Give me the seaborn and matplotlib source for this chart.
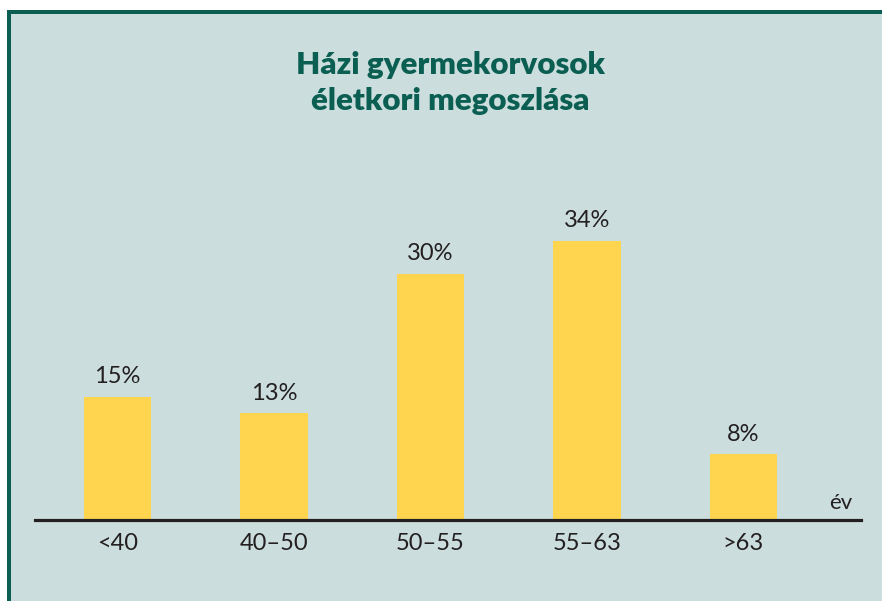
import matplotlib
matplotlib.use("Agg")
import matplotlib.pyplot as plt
import seaborn as sns
import pandas as pd
from matplotlib.patches import Rectangle

categories = ["<40", "40–50", "50–55", "55–63", ">63"]
values = [15, 13, 30, 34, 8]
title_lines = ["Házi gyermekorvosok", "életkori megoszlása"]
unit_label = "év"

BG = "#cbdedd"
GREEN = "#0b5e52"
BAR = "#ffd54f"
TXT = "#231f20"

sns.set_theme(style="white")
plt.rcParams["font.family"] = ["Lato", "DejaVu Sans"]

W, H = 882, 601
fig = plt.figure(figsize=(W / 100, H / 100), dpi=100, facecolor="white")

def px_rect(x0, y0_top, x1, y1_top, color, z):
    fig.patches.append(Rectangle((x0 / W, 1 - y1_top / H), (x1 - x0) / W, (y1_top - y0_top) / H,
                                 transform=fig.transFigure, facecolor=color, edgecolor="none", zorder=z))

# frame: dark green border top/left, light background
px_rect(7, 10, W, H, GREEN, -3)
px_rect(11, 14, W, H, BG, -2)

ax_bottom = 520
ax_top = 160
x_left, x_right = 35, 861
ax = fig.add_axes([x_left / W, 1 - ax_bottom / H, (x_right - x_left) / W, (ax_bottom - ax_top) / H])
ax.patch.set_alpha(0)

df = pd.DataFrame({"cat": categories, "val": values})
sns.barplot(data=df, x="cat", y="val", color=BAR, saturation=1, width=0.43, linewidth=0,
            ax=ax, zorder=2)
for c in ax.containers:
    ax.bar_label(c, labels=[f"{v}%" for v in values], padding=7, fontsize=17, color=TXT)

ax.set_xlim(-0.527, 4.751)
ax.set_ylim(0, (ax_bottom - ax_top) / 8.2)
ax.set_xlabel("")
ax.set_ylabel("")
ax.set_yticks([])
ax.tick_params(axis="x", length=0, pad=9, labelsize=17, labelcolor=TXT)
for s in ["top", "right", "left"]:
    ax.spines[s].set_visible(False)
ax.spines["bottom"].set_color(TXT)
ax.spines["bottom"].set_linewidth(2.3)
ax.spines["bottom"].set_zorder(3)

ax.text(4.62, 0.8, unit_label, ha="center", va="bottom", fontsize=16, color=TXT)

fig.text(450 / W, 1 - 65 / H, title_lines[0], ha="center", va="center", fontsize=22.5,
         fontweight="heavy", color=GREEN, zorder=5)
fig.text(450 / W, 1 - 101 / H, title_lines[1], ha="center", va="center", fontsize=22.5,
         fontweight="heavy", color=GREEN, zorder=5)

fig.savefig("out.png", dpi=100, facecolor="white")
